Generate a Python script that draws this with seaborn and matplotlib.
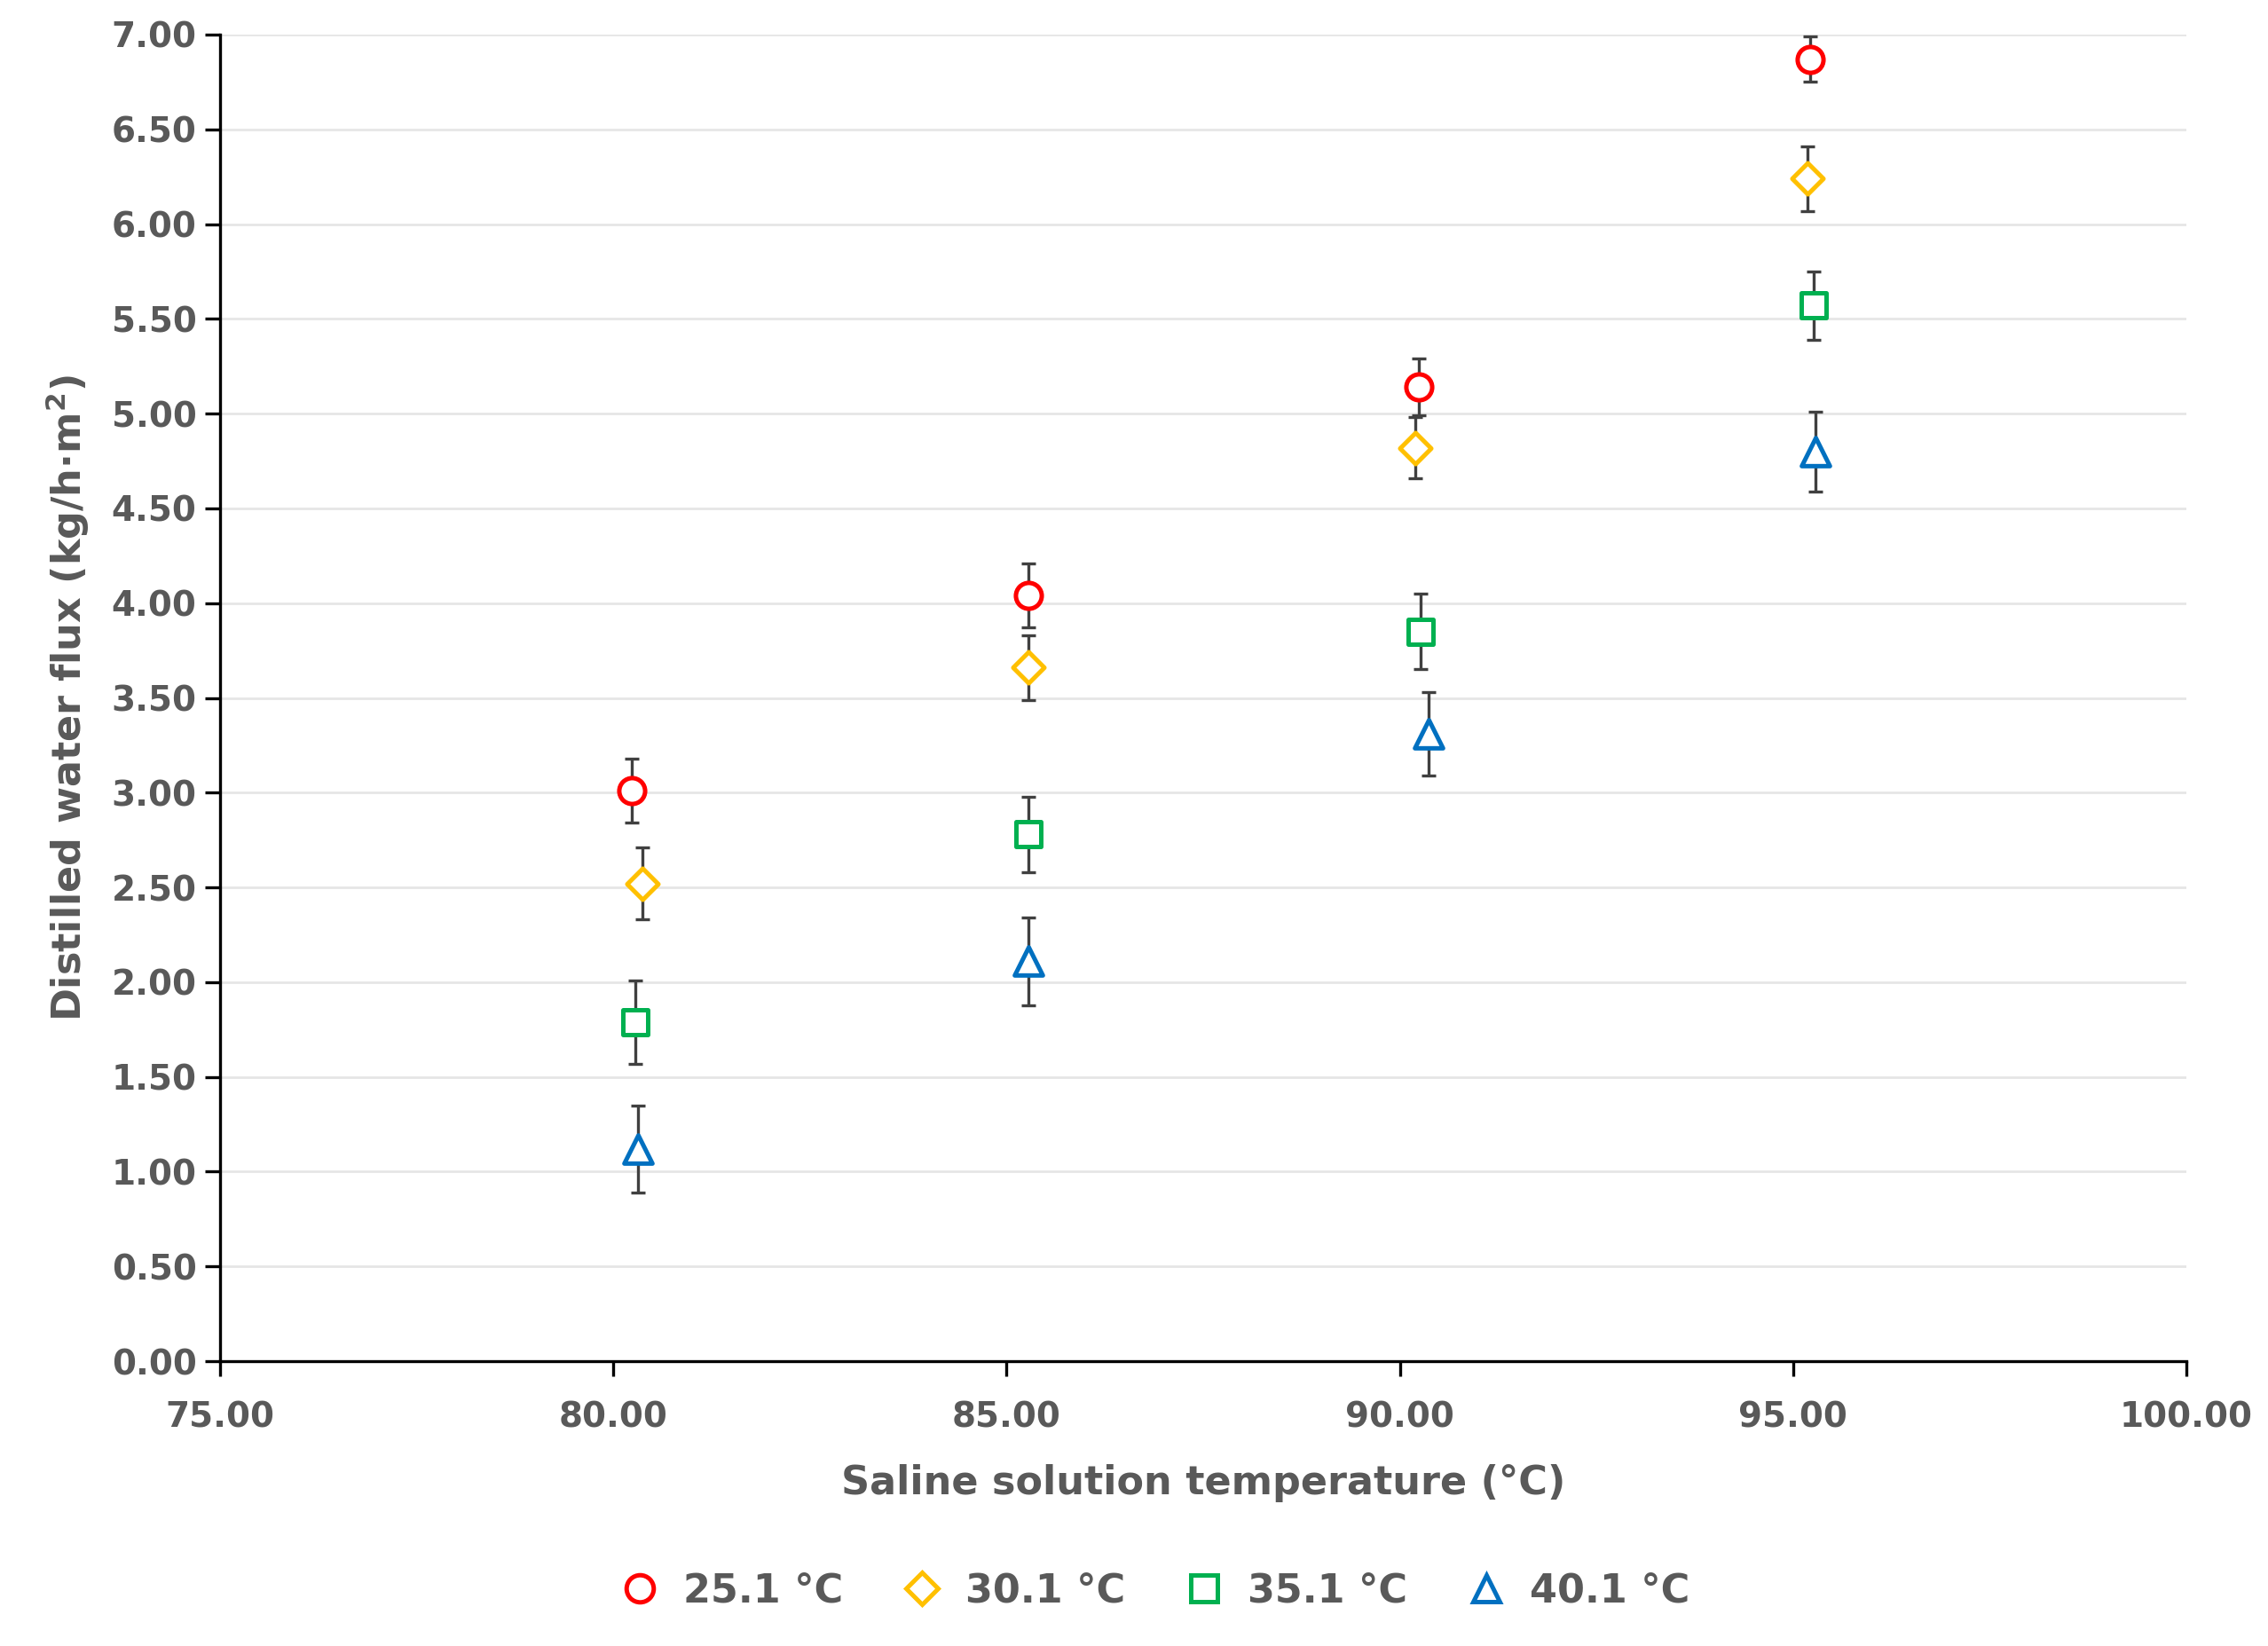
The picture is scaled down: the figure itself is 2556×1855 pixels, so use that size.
import matplotlib
matplotlib.use("Agg")
import matplotlib.pyplot as plt
import seaborn as sns
import pandas as pd

labels = ["25.1 °C", "30.1 °C", "35.1 °C", "40.1 °C"]
colors = ["#FF0000", "#FFC000", "#00B050", "#0070C0"]
markers = ["o", "D", "s", "^"]
x_vals = [
    [80.23, 85.28, 90.24, 95.22],
    [80.37, 85.28, 90.20, 95.18],
    [80.28, 85.28, 90.26, 95.26],
    [80.31, 85.28, 90.37, 95.28],
]
y_vals = [
    [3.01, 4.04, 5.14, 6.87],
    [2.52, 3.66, 4.82, 6.24],
    [1.79, 2.78, 3.85, 5.57],
    [1.12, 2.11, 3.31, 4.80],
]
y_err = [
    [0.17, 0.17, 0.15, 0.12],
    [0.19, 0.17, 0.16, 0.17],
    [0.22, 0.20, 0.20, 0.18],
    [0.23, 0.23, 0.22, 0.21],
]

rows = []
for lab, xs, ys, es in zip(labels, x_vals, y_vals, y_err):
    for x, y, e in zip(xs, ys, es):
        rows.append(dict(series=lab, x=x, y=y, err=e))
df = pd.DataFrame(rows)

gray = "#595959"
plt.rcParams["font.family"] = "DejaVu Sans"
fig = plt.figure(figsize=(12.78, 9.275), dpi=200)
ax = fig.add_axes([0.097, 0.173, 0.867, 0.806])

for lab in labels:
    d = df[df.series == lab]
    ax.errorbar(d.x, d.y, yerr=d.err, fmt="none", ecolor="#404040", elinewidth=1.2, capsize=3, capthick=1.2, zorder=2)

ms = {"o": 110, "D": 80, "s": 100, "^": 130}
for lab, c, m in zip(labels, colors, markers):
    d = df[df.series == lab]
    sns.scatterplot(data=d, x="x", y="y", ax=ax, marker=m, s=ms[m], facecolor="white",
                    edgecolor=c, linewidth=1.8, label=lab, zorder=3, legend=False)

ax.set_xlim(75, 100)
ax.set_ylim(0, 7)
ax.set_xticks([75, 80, 85, 90, 95, 100])
ax.set_yticks([i * 0.5 for i in range(15)])
ax.set_xticklabels([f"{v:.2f}" for v in ax.get_xticks()])
ax.set_yticklabels([f"{v:.2f}" for v in ax.get_yticks()])
ax.tick_params(axis="both", labelsize=14, labelcolor=gray, width=1.2, length=6)
for t in ax.get_xticklabels() + ax.get_yticklabels():
    t.set_fontweight("bold")
ax.tick_params(axis="x", pad=10)
ax.grid(axis="y", color="#E6E6E6", linewidth=1)
ax.set_axisbelow(True)
for s in ["top", "right"]:
    ax.spines[s].set_visible(False)
for s in ["left", "bottom"]:
    ax.spines[s].set_color("black")
    ax.spines[s].set_linewidth(1.2)
ax.set_xlabel("Saline solution temperature (°C)", fontsize=16, fontweight="bold", color=gray, labelpad=12)
ax.set_ylabel("Distilled water flux (kg/h·m$^\\mathbf{2}$)", fontsize=16, fontweight="bold", color=gray, labelpad=8)

handles = [plt.Line2D([], [], marker=m, color=c, markerfacecolor="white", linestyle="none",
                      markersize=11 if m != "D" else 9, markeredgewidth=1.8) for m, c in zip(markers, colors)]
leg = fig.legend(handles, labels, loc="lower center", bbox_to_anchor=(0.505, 0.0), ncol=4, frameon=False,
                 prop={"size": 16, "weight": "bold"}, handletextpad=0.1, columnspacing=1.0)
for t in leg.get_texts():
    t.set_color(gray)

fig.savefig("out.png", dpi=200)
